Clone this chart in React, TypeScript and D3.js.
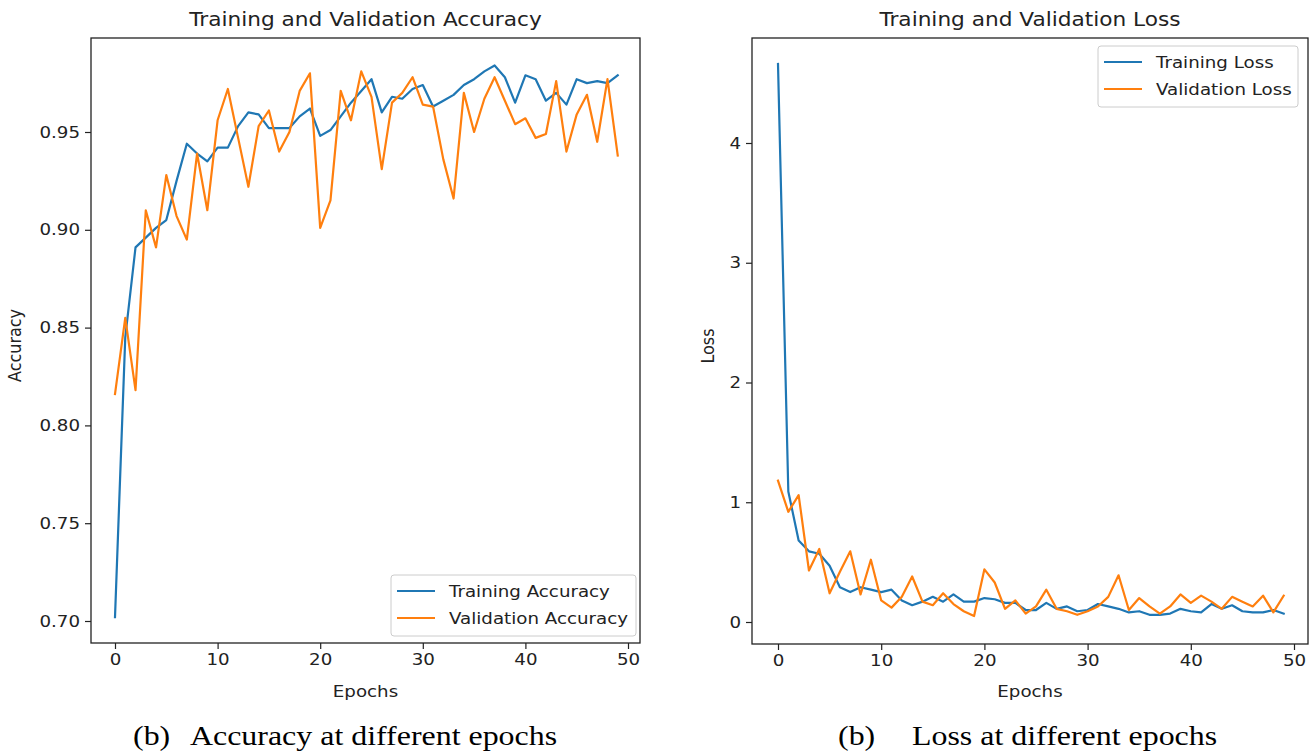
import React, { useEffect, useRef } from 'react';
import * as d3 from 'd3';

// accuracy per epoch
const trainAcc = [
  0.702, 0.845, 0.891, 0.896, 0.901, 0.905, 0.925, 0.944, 0.939, 0.935,
  0.942, 0.942, 0.953, 0.96, 0.959, 0.952, 0.952, 0.952, 0.958, 0.962,
  0.948, 0.951, 0.958, 0.965, 0.971, 0.977, 0.96, 0.968, 0.967, 0.972,
  0.974, 0.963, 0.966, 0.969, 0.974, 0.977, 0.981, 0.984, 0.978, 0.965,
  0.979, 0.977, 0.966, 0.97, 0.964, 0.977, 0.975, 0.976, 0.975, 0.979,
];
const valAcc = [
  0.816, 0.855, 0.818, 0.91, 0.891, 0.928, 0.907, 0.895, 0.939, 0.91,
  0.956, 0.972, 0.947, 0.922, 0.953, 0.961, 0.94, 0.95, 0.971, 0.98,
  0.901, 0.915, 0.971, 0.956, 0.981, 0.968, 0.931, 0.965, 0.97, 0.978,
  0.964, 0.963, 0.936, 0.916, 0.97, 0.95, 0.967, 0.978, 0.966, 0.954,
  0.957, 0.947, 0.949, 0.976, 0.94, 0.959, 0.969, 0.945, 0.977, 0.938,
];

// loss per epoch
const trainLoss = [
  4.66, 1.09, 0.68, 0.59, 0.57, 0.47, 0.29, 0.25, 0.29, 0.27,
  0.25, 0.27, 0.18, 0.14, 0.17, 0.21, 0.17, 0.23, 0.17, 0.17,
  0.2, 0.19, 0.16, 0.16, 0.1, 0.1, 0.16, 0.11, 0.13, 0.09,
  0.1, 0.15, 0.13, 0.11, 0.08, 0.09, 0.06, 0.06, 0.07, 0.11,
  0.09, 0.08, 0.15, 0.11, 0.14, 0.09, 0.08, 0.08, 0.1, 0.07,
];
const valLoss = [
  1.18, 0.92, 1.06, 0.43, 0.61, 0.24, 0.42, 0.59, 0.23, 0.52,
  0.18, 0.12, 0.21, 0.38, 0.17, 0.14, 0.24, 0.15, 0.09, 0.05,
  0.44, 0.33, 0.11, 0.18, 0.07, 0.13, 0.27, 0.11, 0.09, 0.06,
  0.09, 0.13, 0.21, 0.39, 0.1, 0.2, 0.13, 0.07, 0.13, 0.23,
  0.16, 0.22, 0.17, 0.11, 0.21, 0.17, 0.13, 0.22, 0.08, 0.22,
];

const xTicks = [0, 10, 20, 30, 40, 50];
const accTicks = [0.7, 0.75, 0.8, 0.85, 0.9, 0.95];
const lossTicks = [0, 1, 2, 3, 4];

const BLUE = '#1f77b4';
const ORANGE = '#ff7f0e';
const FONT = '"DejaVu Sans", sans-serif';
const SERIF = '"Liberation Serif", "Times New Roman", serif';
// the source figure is stretched sideways a bit, text included
const SX = 1.14;

const panels = [
  {
    title: 'Training and Validation Accuracy',
    yLabel: 'Accuracy',
    caption: ['(b)', 'Accuracy at different epochs'],
    series: [
      { name: 'Training Accuracy', values: trainAcc, color: BLUE },
      { name: 'Validation Accuracy', values: valAcc, color: ORANGE },
    ],
    yTicks: accTicks,
    yFmt: d3.format('.2f'),
    box: { left: 91, right: 640, top: 38, bottom: 643 },
    xRange: [115, 628],
    yDomain: [0.7, 0.95],
    yRange: [621, 132],
    yLabelX: 21,
    legend: { x: 391, y: 575, w: 245, h: 61 },
    captionX: [133, 190],
  },
  {
    title: 'Training and Validation Loss',
    yLabel: 'Loss',
    caption: ['(b)', 'Loss at different epochs'],
    series: [
      { name: 'Training Loss', values: trainLoss, color: BLUE },
      { name: 'Validation Loss', values: valLoss, color: ORANGE },
    ],
    yTicks: lossTicks,
    yFmt: d3.format('d'),
    box: { left: 752, right: 1308, top: 38, bottom: 644 },
    xRange: [778, 1294],
    yDomain: [0, 4],
    yRange: [622, 143],
    yLabelX: 714,
    legend: { x: 1098, y: 46, w: 200, h: 61 },
    captionX: [838, 912],
  },
];

// text stretched horizontally around its anchor point
const addText = (g, x, y, str, size, anchor = 'start', family = FONT, fill = '#222') =>
  g
    .append('text')
    .attr('transform', `translate(${x},${y}) scale(${SX},1)`)
    .attr('text-anchor', anchor)
    .attr('font-family', family)
    .attr('font-size', size)
    .attr('fill', fill)
    .text(str);

const App = () => {
  const ref = useRef(null);

  useEffect(() => {
    const svg = d3.select(ref.current);
    svg.selectAll('*').remove();

    svg.append('rect').attr('width', 1313).attr('height', 754).attr('fill', '#fff');

    panels.forEach((p) => {
      const g = svg.append('g');
      const { box } = p;
      const x = d3.scaleLinear().domain([0, 50]).range(p.xRange);
      const y = d3.scaleLinear().domain(p.yDomain).range(p.yRange);
      const cx = (box.left + box.right) / 2;

      // lines
      const line = d3
        .line<number>()
        .x((_, i) => x(i))
        .y((d) => y(d));

      g.append('defs')
        .append('clipPath')
        .attr('id', `clip-${p.yLabel}`)
        .append('rect')
        .attr('x', box.left)
        .attr('y', box.top)
        .attr('width', box.right - box.left)
        .attr('height', box.bottom - box.top);

      p.series.forEach((s) => {
        g.append('path')
          .datum(s.values)
          .attr('d', line)
          .attr('fill', 'none')
          .attr('stroke', s.color)
          .attr('stroke-width', 2.2)
          .attr('stroke-linejoin', 'round')
          .attr('stroke-linecap', 'square')
          .attr('clip-path', `url(#clip-${p.yLabel})`);
      });

      // frame
      g.append('rect')
        .attr('x', box.left)
        .attr('y', box.top)
        .attr('width', box.right - box.left)
        .attr('height', box.bottom - box.top)
        .attr('fill', 'none')
        .attr('stroke', '#222')
        .attr('stroke-width', 1.3);

      // x axis
      const xa = g
        .append('g')
        .attr('transform', `translate(0,${box.bottom})`)
        .call(d3.axisBottom(x).tickValues(xTicks).tickSize(6).tickPadding(5));
      xa.select('.domain').remove();
      xa.selectAll('line').attr('stroke', '#222').attr('stroke-width', 1.2);
      xa.selectAll('text')
        .attr('font-family', FONT)
        .attr('font-size', 16)
        .attr('fill', '#222')
        .attr('transform', `scale(${SX},1)`)
        .attr('x', 0);

      // y axis
      const ya = g
        .append('g')
        .attr('transform', `translate(${box.left},0)`)
        .call(d3.axisLeft(y).tickValues(p.yTicks).tickFormat(p.yFmt).tickSize(6).tickPadding(5));
      ya.select('.domain').remove();
      ya.selectAll('line').attr('stroke', '#222').attr('stroke-width', 1.2);
      ya.selectAll('text')
        .attr('font-family', FONT)
        .attr('font-size', 16)
        .attr('fill', '#222')
        .attr('x', -11 / SX)
        .attr('transform', `scale(${SX},1)`);

      // title and labels
      addText(g, cx, 26, p.title, 19, 'middle');
      addText(g, cx, 697, 'Epochs', 16, 'middle');

      const my = (box.top + box.bottom) / 2 + 5;
      g.append('text')
        .attr('transform', `translate(${p.yLabelX},${my}) scale(${SX},1) rotate(-90)`)
        .attr('text-anchor', 'middle')
        .attr('font-family', FONT)
        .attr('font-size', 16)
        .attr('fill', '#222')
        .text(p.yLabel);

      // legend
      const lg = g.append('g').attr('transform', `translate(${p.legend.x},${p.legend.y})`);
      lg.append('rect')
        .attr('width', p.legend.w)
        .attr('height', p.legend.h)
        .attr('rx', 3)
        .attr('fill', '#fff')
        .attr('fill-opacity', 0.8)
        .attr('stroke', '#ccc');
      p.series.forEach((s, i) => {
        const ly = 16 + i * 27;
        lg.append('line')
          .attr('x1', 6)
          .attr('x2', 44)
          .attr('y1', ly)
          .attr('y2', ly)
          .attr('stroke', s.color)
          .attr('stroke-width', 2.2);
        addText(lg, 58, ly + 6, s.name, 16);
      });

      // caption
      p.caption.forEach((c, i) => {
        addText(g, p.captionX[i], 745, c, 28, 'start', SERIF, '#000');
      });
    });
  }, []);

  return (
    <svg
      ref={ref}
      width={1313}
      height={754}
      style={{ position: 'absolute', left: 0, top: 0, display: 'block' }}
    />
  );
};

export default App;
